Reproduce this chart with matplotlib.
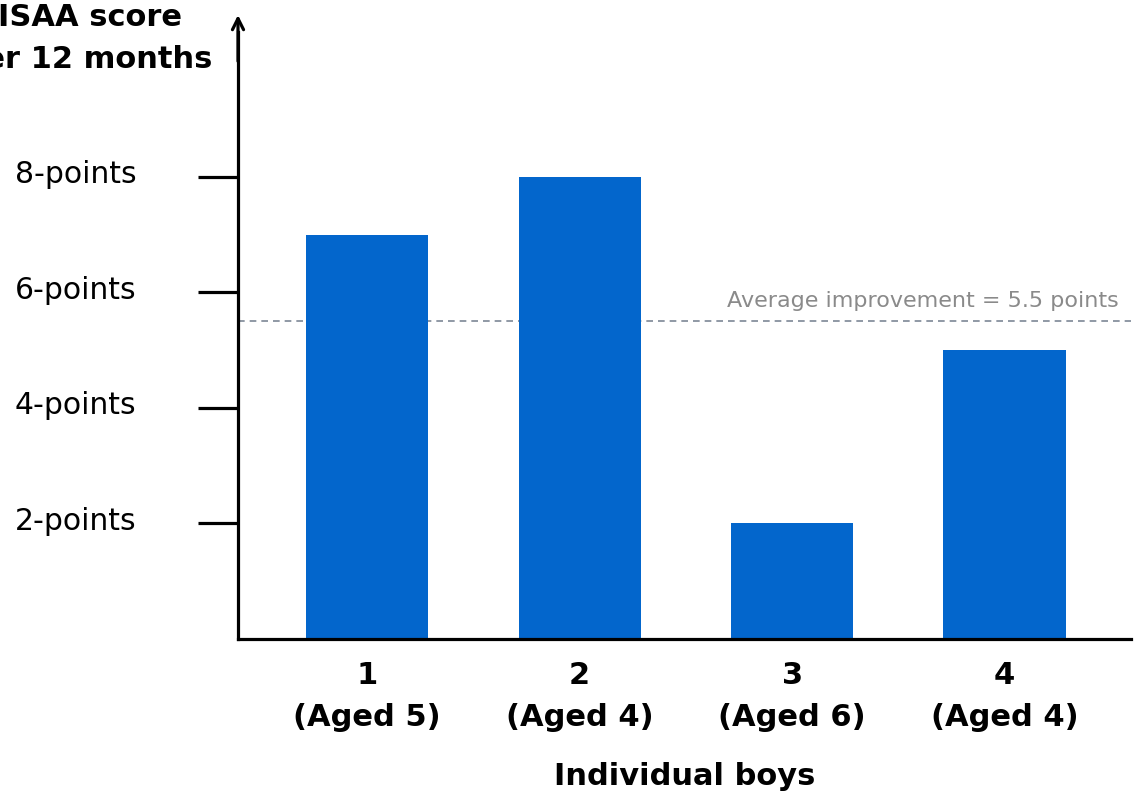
import matplotlib.pyplot as plt
import matplotlib.transforms as mtransforms

plt.rcParams['font.family'] = ['DejaVu Sans']

# data
boys = ["1\n(Aged 5)", "2\n(Aged 4)", "3\n(Aged 6)", "4\n(Aged 4)"]
improvement = [7, 8, 2, 5]
average = 5.5
ytick_vals = [2, 4, 6, 8]
ytick_labels = ["2-points", "4-points", "6-points", "8-points"]

W, H = 1135, 796
fig = plt.figure(figsize=(W / 100, H / 100), dpi=100)
ax = fig.add_axes([238 / W, (H - 639) / H, (1131 - 238) / W, (639 - 15) / H])

x = list(range(len(boys)))
ax.bar(x, improvement, width=0.575, color="#0366cc", zorder=2)

ax.set_xlim(-0.608, 3.595)
ax.set_ylim(0, 10.8)

# average line
ax.axhline(average, color="#7d8796", lw=1.2, ls=(0, (4, 3)), zorder=1)
ax.text(3.537, average + 0.17, "Average improvement = 5.5 points",
        ha="right", va="bottom", fontsize=16, color="#8a8a8a")

# axes styling
for s in ["top", "right"]:
    ax.spines[s].set_visible(False)
ax.spines["left"].set_linewidth(2.3)
ax.spines["bottom"].set_linewidth(2.3)
ax.spines["left"].set_bounds(0, 10.5)

ax.set_yticks(ytick_vals)
ax.set_yticklabels(ytick_labels, fontsize=21.5)
ax.tick_params(axis="y", length=29, width=2.3, pad=44, colors="black")
up = mtransforms.ScaledTranslation(0, 5 / 100, fig.dpi_scale_trans)
for lbl in ax.get_yticklabels():
    lbl.set_horizontalalignment("right")
    lbl.set_transform(lbl.get_transform() + up)

ax.set_xticks(x)
ax.set_xticklabels(boys, fontsize=22, fontweight="bold", linespacing=1.55)
ax.tick_params(axis="x", length=0, pad=16)
ax.set_xlabel("Individual boys", fontsize=22, fontweight="bold", labelpad=22)

# arrow at the top of the y axis
ax.annotate("", xy=(-0.608, 10.8), xytext=(-0.608, 10.0),
            arrowprops=dict(arrowstyle="->,head_length=0.8,head_width=0.4",
                            lw=2.3, color="black", shrinkA=0, shrinkB=0),
            annotation_clip=False)

# y axis title (cropped at the left edge in the original)
fig.text(182 / W, 1 - 18 / H, "ISAA score", ha="right", va="center",
         fontsize=22, fontweight="bold")
fig.text(212 / W, 1 - 60 / H, "after 12 months", ha="right", va="center",
         fontsize=22, fontweight="bold")

fig.savefig("out.png", dpi=100)
